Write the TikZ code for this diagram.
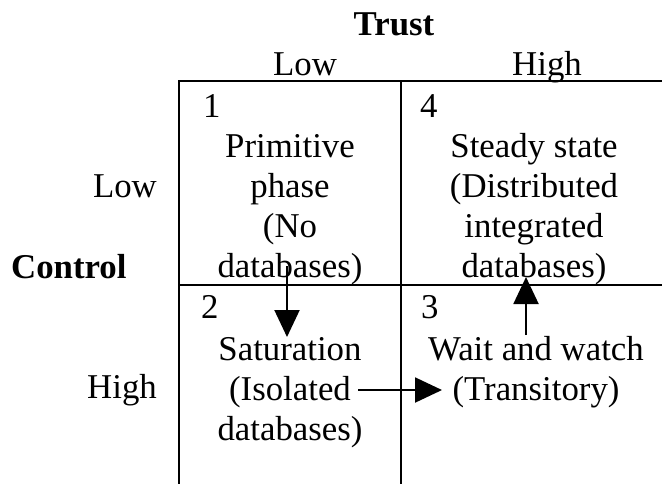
\documentclass[tikz,border=0pt]{standalone}
\usepackage{fontspec}
\setmainfont{Liberation Serif}
\usetikzlibrary{arrows.meta,positioning}

\tikzset{
    every picture/.style={
        font=\fontsize{17.4}{20}\selectfont,
        line width=1.2pt
    },
    arrow/.style={-{Triangle[width=12.5pt,length=13.5pt]}, line width=1pt}
}

\begin{document}
\begin{tikzpicture}[
    x=0.5pt, y=-0.5pt,
    cell/.style={align=center, inner sep=0pt, anchor=base},
    num/.style={inner sep=0pt, anchor=base west},
    head/.style={inner sep=0pt, anchor=base},
    side/.style={inner sep=0pt, anchor=base east}
]
    \useasboundingbox (0,0) rectangle (662,484);

    % Grid lines
    \draw (178,81) -- (662,81);
    \draw (178,285) -- (662,285);
    \draw (179,81) -- (179,484);
    \draw (401,81) -- (401,484);

    % Axis labels
    \node[head, font=\fontsize{17.4}{20}\selectfont\bfseries] (trust) at (394,35) {Trust};
    \node[head] (tlow) at (305,75) {Low};
    \node[head] (thigh) at (547,75) {High};
    \node[side] (clow) at (158,197) {Low};
    \node[side] (chigh) at (158,398) {High};
    \node[num, font=\fontsize{17.4}{20}\selectfont\bfseries] (control) at (10,278) {Control};

    % Quadrant numbers
    \node[num] (n1) at (202,117) {1};
    \node[num] (n4) at (419,117) {4};
    \node[num] (n2) at (200,318) {2};
    \node[num] (n3) at (420,318) {3};

    % Quadrant texts (placed by their last line)
    \node[cell] (primitive) at (290,277) {Primitive\\phase\\(No\\databases)};
    \node[cell] (steady) at (534,277) {Steady state\\(Distributed\\integrated\\databases)};
    \node[cell] (saturation) at (290,440) {Saturation\\(Isolated\\databases)};
    \node[cell] (wait) at (536,400) {Wait and watch\\(Transitory)};

    % Transitions
    \coordinate (downfrom) at (287,266);
    \coordinate (downto) at (287,337);
    \coordinate (rightfrom) at (358,390);
    \coordinate (rightto) at (442,390);
    \coordinate (upfrom) at (526,335);
    \coordinate (upto) at (526,277);
    \draw[arrow] (downfrom) -- (downto);
    \draw[arrow] (rightfrom) -- (rightto);
    \draw[arrow] (upfrom) -- (upto);

\end{tikzpicture}
\end{document}
